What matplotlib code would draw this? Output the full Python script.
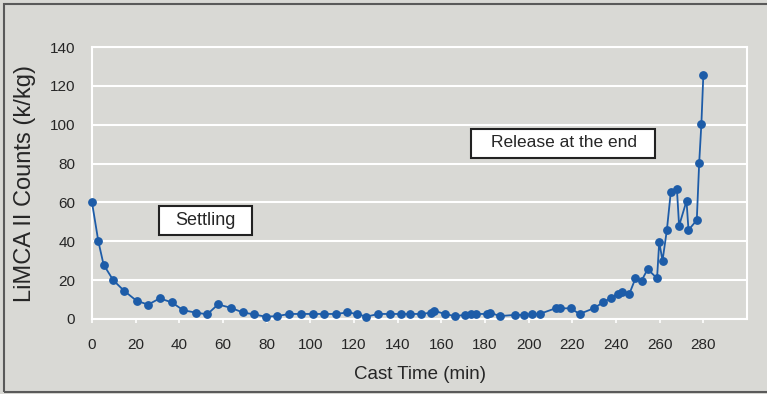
import numpy as np
import matplotlib
matplotlib.use("Agg")
from matplotlib import pyplot as plt
from matplotlib.patches import Rectangle

plt.rcParams['font.family'] = ['Liberation Sans', 'DejaVu Sans']

# Cast time (min) and LiMCA II counts (k/kg)
cast_time = [0, 2.9, 5.3, 9.7, 14.7, 20.4, 25.7, 31, 36.5, 41.8, 47.5, 52.8,
             57.7, 63.5, 69, 74, 79.5, 84.8, 90.4, 95.8, 101, 106.4, 111.9,
             117, 121.3, 125.6, 131.2, 136.5, 141.4, 145.7, 150.5, 155.1,
             156.6, 161.6, 166.2, 170.8, 173.8, 175.8, 180.7, 182.5, 186.8,
             193.6, 197.7, 201.7, 205, 212.3, 214.2, 219.2, 223.3, 229.8,
             234, 237.8, 240.8, 242.8, 246.1, 248.9, 251.7, 254.5, 258.8,
             259.8, 261.3, 263.3, 265.1, 267.9, 268.9, 272.3, 273.2, 277,
             278.1, 279.1, 280]
counts = [60, 40, 28, 20, 14.5, 9.4, 7.4, 10.6, 8.6, 4.5, 3.3, 2.4,
          7.5, 5.8, 3.4, 2.4, 1.2, 1.5, 2.6, 2.6, 2.6, 2.6, 2.6,
          3.4, 2.6, 1.2, 2.6, 2.6, 2.6, 2.6, 2.6, 3.2,
          4.3, 2.6, 1.5, 2.1, 2.6, 2.6, 2.6, 3.2, 1.5,
          2.1, 2.1, 2.6, 2.6, 5.5, 5.5, 5.5, 2.6, 5.5,
          8.5, 11, 12.9, 14, 12.9, 20.9, 19.7, 25.7, 20.9,
          39.7, 30, 45.8, 65.4, 66.8, 48, 60.8, 45.8, 50.9,
          80.4, 100.3, 125.5]

xticks = list(range(0, 281, 20))
yticks = list(range(0, 141, 20))

bg = '#d9d9d5'
blue = '#1d5ca8'
txt = '#262626'

fig = plt.figure(figsize=(7.67, 3.94), dpi=100)
fig.patch.set_facecolor(bg)
ax = fig.add_axes([92/767, 1 - 319/394, (747 - 92)/767, (319 - 47)/394])
ax.set_facecolor(bg)

ax.plot(cast_time, counts, '-o', color=blue, lw=1.3, ms=5.3, clip_on=False, zorder=3)

ax.set_xlim(0, 300)
ax.set_ylim(0, 140)
ax.set_xticks(xticks)
ax.set_yticks(yticks)
ax.grid(axis='y', color='white', lw=1.5)
ax.set_axisbelow(True)
for s in ax.spines.values():
    s.set_color('white')
    s.set_linewidth(1.5)

ax.tick_params(axis='x', colors='white', length=3, width=1.2, pad=11,
               labelsize=11, labelcolor=txt)
ax.tick_params(axis='y', length=0, pad=12, labelsize=11, labelcolor=txt)

ax.set_xlabel('Cast Time (min)', fontsize=13.5, color=txt, labelpad=10)
ax.set_ylabel('LiMCA II Counts (k/kg)', fontsize=17, color=txt, labelpad=10)

# annotation boxes
ax.add_patch(Rectangle((30.6, 43.2), 42.9, 14.9, fc='white', ec='#222222',
                       lw=1.5, zorder=4))
ax.text(52, 50.6, 'Settling', fontsize=13, color=txt, ha='center', va='center', zorder=5)
ax.add_patch(Rectangle((173.8, 83.1), 84.2, 14.9, fc='white', ec='#222222',
                       lw=1.5, zorder=4))
ax.text(216, 90.6, 'Release at the end', fontsize=12.5, color=txt,
        ha='center', va='center', zorder=5)

# outer frame
fig.add_artist(Rectangle((4/767, 2/394), 1.0, 388/394, transform=fig.transFigure,
                         fill=False, ec='#5a5a5a', lw=1.5))

fig.savefig('out.png', dpi=100, facecolor=bg)
